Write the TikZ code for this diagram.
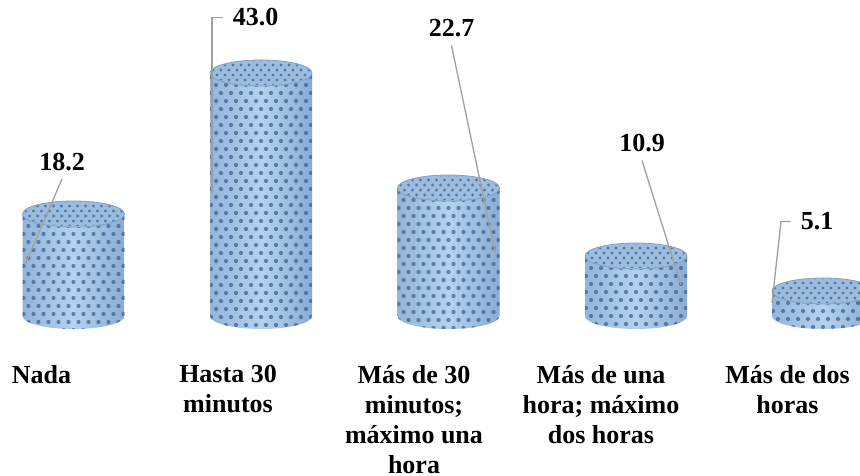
\documentclass[tikz,border=0pt]{standalone}
\usepackage{fontspec}
\setmainfont{Liberation Serif}
\definecolor{cylleft}{HTML}{93B5DA}
\definecolor{cylmid}{HTML}{B4D2EE}
\definecolor{cylright}{HTML}{89ACD3}
\definecolor{cyltop}{HTML}{9DBDDF}
\definecolor{cylrim}{HTML}{7F9FC4}
\definecolor{cyldot}{HTML}{3A5C8C}
\definecolor{leadgray}{HTML}{A0A0A0}
\tikzset{
  bodyshade/.style={left color=cylleft, right color=cylright, middle color=cylmid},
  topfill/.style={fill=cyltop, draw=cylrim, line width=0.8pt},
  dotmark/.style={fill=cyldot, fill opacity=0.7},
  vallabel/.style={font=\bfseries\fontsize{26}{30}\selectfont, inner xsep=10pt, inner ysep=8pt},
  catlabel/.style={font=\bfseries\fontsize{26}{30}\selectfont, align=center, anchor=north, inner sep=0pt},
  leader/.style={draw=leadgray, line width=1.3pt}
}
\newcommand\drawcyl[3]{%
  \shade[bodyshade] (#1-51,#2) -- (#1-51,#3) arc[start angle=180,end angle=0,x radius=51,y radius=13] -- (#1+51,#2) -- cycle;
  \begin{scope}
    \clip (#1-51,#2) -- (#1-51,#3) arc[start angle=180,end angle=0,x radius=51,y radius=13] -- (#1+51,#2) -- cycle;
    \pgfmathtruncatemacro\nrows{(#3-#2+30)/8}
    \foreach \r in {0,...,\nrows}{
      \foreach \c in {-6,...,5}{
        \pgfmathsetmacro\xx{#1+\c*10+mod(\r,2)*5}
        \pgfmathsetmacro\yy{#2+4+\r*8}
        \fill[dotmark] (\xx,\yy) circle[radius=2.1];
      }
    }
  \end{scope}
  \path[topfill] (#1,#2) ellipse[x radius=51,y radius=13];
  \begin{scope}
    \clip (#1,#2) ellipse[x radius=50,y radius=12];
    \foreach \r in {0,...,5}{
      \foreach \c in {-7,...,6}{
        \pgfmathsetmacro\xx{#1+\c*8+mod(\r,2)*4}
        \pgfmathsetmacro\yy{#2-13+\r*5}
        \fill[dotmark] (\xx,\yy) circle[radius=1.6];
      }
    }
  \end{scope}
}
\begin{document}
\begin{tikzpicture}[x=1pt,y=-1pt]
  \useasboundingbox (0,0) rectangle (860,476);
  \clip (0,0) rectangle (860,476);
  % cylinders
  \drawcyl{73.5}{214}{316}
  \drawcyl{261}{73}{316}
  \drawcyl{448.5}{188}{316}
  \drawcyl{636}{256}{316}
  \drawcyl{823}{291}{316}
  % value labels
  \node[vallabel] (v1) at (62,162) {18.2};
  \node[vallabel] (v2) at (255.5,17.5) {43.0};
  \node[vallabel] (v3) at (451.5,28.5) {22.7};
  \node[vallabel] (v4) at (642,143.5) {10.9};
  \node[vallabel] (v5) at (817,221.5) {5.1};
  % leader end points
  \coordinate (e1) at (25,265);
  \coordinate (e2) at (212,193);
  \coordinate (e3) at (495,252);
  \coordinate (e4) at (681,285);
  \coordinate (k5) at (781,221.5);
  \coordinate (e5) at (772,303);
  \draw[leader] (v1.south) -- (e1);
  \draw[leader] (v2.west) -| (e2);
  \draw[leader] (v3.south) -- (e3);
  \draw[leader] (v4.south) -- (e4);
  \draw[leader] (v5.west) -- (k5) -- (e5);
  % category labels
  \node[catlabel] (c1) at (41.5,365) {Nada};
  \node[catlabel] (c2) at (228,365) {Hasta 30\\minutos};
  \node[catlabel] (c3) at (414,365) {Más de 30\\minutos;\\máximo una\\hora};
  \node[catlabel] (c4) at (601,365) {Más de una\\hora; máximo\\dos horas};
  \node[catlabel] (c5) at (787.5,365) {Más de dos\\horas};
\end{tikzpicture}
\end{document}
